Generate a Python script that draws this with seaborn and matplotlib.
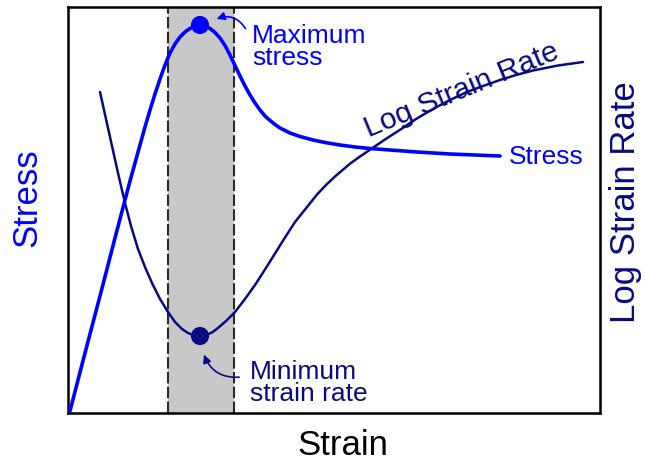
import matplotlib
matplotlib.use("Agg")
import matplotlib.pyplot as plt
import seaborn as sns
import pandas as pd

# ---- data (arbitrary units) ----
stress_x = [2, 17, 32, 47, 62, 72, 77, 82, 87, 92, 97, 102, 107, 112, 117, 122, 127,
            132, 137, 142, 147, 152, 157, 162, 167, 172, 177, 182, 187, 192, 197, 202,
            207, 212, 222, 232, 245, 257, 272, 287, 302, 322, 349, 382, 407, 432]
stress_y = [2, 60, 117, 175, 232, 268, 286, 303, 319, 334, 348, 360, 369, 376, 381,
            384.5, 387, 388, 387, 384.5, 380.5, 375, 367.5, 358, 347.5, 337, 327, 318,
            310, 303, 297, 292.5, 288.5, 285, 280, 276.5, 273, 270.5, 268, 266, 264.5,
            263, 261, 259, 258, 257]

rate_x = [32, 38, 44, 50, 57, 63, 70, 77, 84, 92, 100, 107, 114, 120, 126, 132, 138,
          144, 150, 158, 167, 177, 187, 197, 207, 217, 227, 238, 249, 258, 267, 282,
          292, 302, 317, 332, 348, 365, 382, 399, 415, 432, 448, 465, 490, 515]
rate_y = [321, 294, 267, 240, 210, 187, 164, 146, 130, 114, 101, 91, 84, 80, 77.5, 77,
          78, 80.5, 85, 92, 101, 114, 128, 143.5, 159.5, 175.5, 191, 204.7, 218.5, 228,
          236.5, 249.3, 256.5, 263.3, 273.5, 283.2, 294, 304, 313, 321, 327, 333, 338,
          342.5, 347.5, 351]

band = [100, 166]
max_point = (132, 388)
min_point = (132, 77)

BLUE = "#0000FF"
NAVY = "#0A0A80"

sns.set_style("white")
plt.rcParams["font.family"] = ["Liberation Sans", "DejaVu Sans"]

fig = plt.figure(figsize=(6.45, 4.64), dpi=100)
ax = fig.add_axes([68 / 645, 1 - 414 / 464, 532 / 645, 406 / 464])

ax.axvspan(band[0], band[1], color="#C8C8C8", zorder=0, lw=0)
for xv in band:
    ax.axvline(xv, color="#2A2A2A", lw=1.5, ls=(0, (5.5, 1.6)), zorder=1)

sdf = pd.DataFrame({"x": stress_x, "y": stress_y})
rdf = pd.DataFrame({"x": rate_x, "y": rate_y})
sns.lineplot(data=rdf, x="x", y="y", ax=ax, color=NAVY, lw=1.8, sort=False, zorder=3,
             solid_joinstyle="round", solid_capstyle="round")
sns.lineplot(data=sdf, x="x", y="y", ax=ax, color=BLUE, lw=2.6, sort=False, zorder=4,
             solid_joinstyle="round", solid_capstyle="round")

mdf = pd.DataFrame({"x": [max_point[0], min_point[0]], "y": [max_point[1], min_point[1]],
                    "k": ["max", "min"]})
sns.scatterplot(data=mdf, x="x", y="y", hue="k", palette={"max": BLUE, "min": NAVY},
                s=170, edgecolor="none", ax=ax, legend=False, zorder=5)

ax.set_xlim(0, 532)
ax.set_ylim(0, 406)
ax.set_xticks([])
ax.set_yticks([])
ax.set_xlabel("")
ax.set_ylabel("")
for sp in ax.spines.values():
    sp.set_visible(True)
    sp.set_color("black")
    sp.set_linewidth(1.8)

# annotations
ax.text(184, 390, "Maximum\nstress", color=BLUE, fontsize=19, ha="left", va="top",
        linespacing=0.9)
ax.annotate("", xy=(146, 393), xytext=(179, 382),
            arrowprops=dict(arrowstyle="-|>", color=BLUE, lw=1.2,
                            connectionstyle="arc3,rad=0.45", mutation_scale=12))

ax.text(182, 54, "Minimum\nstrain rate", color=NAVY, fontsize=19, ha="left", va="top",
        linespacing=0.9)
ax.annotate("", xy=(135, 61), xytext=(174, 36),
            arrowprops=dict(arrowstyle="-|>", color=NAVY, lw=1.2,
                            connectionstyle="arc3,rad=-0.4", mutation_scale=12))

ax.text(441, 257, "Stress", color=BLUE, fontsize=19, ha="left", va="center")
ax.text(394, 324, "Log Strain Rate", color=NAVY, fontsize=21.5, ha="center",
        va="center", rotation=22.5, rotation_mode="anchor")

fig.text(27 / 645, 1 - 198 / 464, "Stress", color=BLUE, fontsize=25, rotation=90,
         ha="center", va="center")
fig.text(626 / 645, 1 - 202 / 464, "Log Strain Rate", color=NAVY, fontsize=25,
         rotation=90, ha="center", va="center")
fig.text(343 / 645, 1 - 446 / 464, "Strain", color="black", fontsize=25,
         ha="center", va="center")

fig.savefig("out.png", dpi=100)
